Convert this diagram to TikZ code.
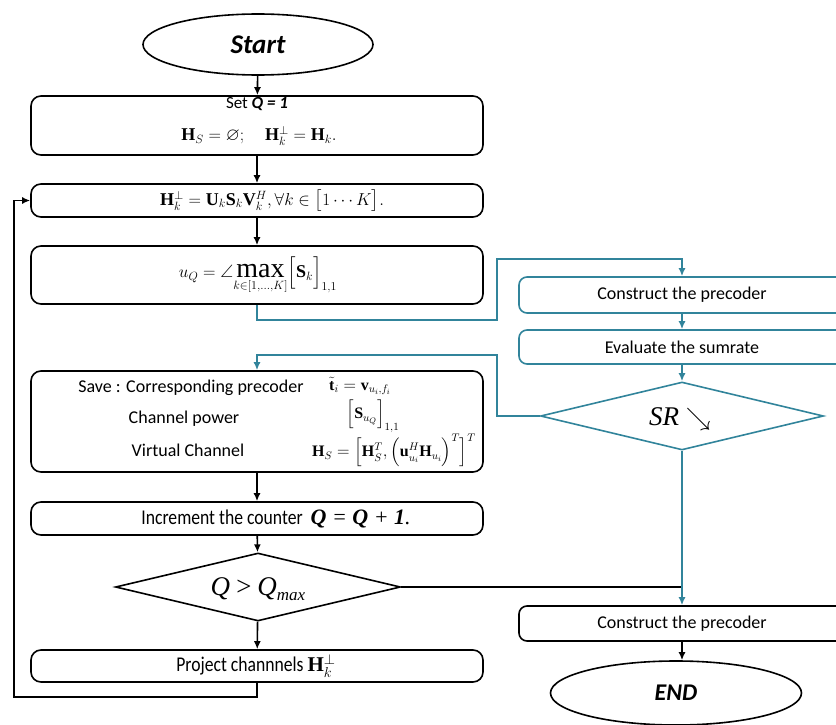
\documentclass[tikz,border=0pt]{standalone}
\usepackage{amsmath,amssymb}
\usepackage{fontspec}
\setsansfont{Carlito}
\setmathrm{Liberation Serif}
\setboldmathrm{Liberation Serif}
\newfontfamily\condfont{Carlito}[FakeStretch=0.84]
\newfontfamily\timesfont{Liberation Serif}
\usetikzlibrary{shapes.geometric,arrows.meta}
\definecolor{flowteal}{RGB}{49,132,155}
\tikzset{
  box/.style={draw=black, line width=1.6pt, rounded corners=10pt, fill=white, inner sep=0pt},
  tbox/.style={draw=flowteal, line width=1.6pt, rounded corners=8pt, fill=white, inner sep=0pt},
  blk/.style={draw=black, line width=1.6pt},
  tl/.style={draw=flowteal, line width=1.6pt},
  arr/.style={-{Latex[length=8pt,width=7pt]}},
  lbl/.style={font=\sffamily\fontsize{18}{21}\selectfont, inner sep=0pt},
  clbl/.style={font=\condfont\fontsize{21}{24}\selectfont, inner sep=0pt},
  mth/.style={font=\fontsize{18}{22}\selectfont, inner sep=0pt},
  smth/.style={font=\fontsize{16}{19}\selectfont, inner sep=0pt},
  term/.style={ellipse, draw=black, line width=1.6pt, fill=white, inner sep=0pt,
    font=\sffamily\bfseries\itshape},
  big/.style={font=\timesfont\itshape\fontsize{27}{30}\selectfont, inner sep=0pt},
}
\begin{document}
\begin{tikzpicture}[x=1pt,y=-1pt]
\useasboundingbox (0,0) rectangle (836,725);

% ---------- left column ----------
\node[term, minimum width=230, minimum height=61, font=\sffamily\bfseries\itshape\fontsize{27}{30}\selectfont] (start) at (258,44.5) {Start};

\node[box, minimum width=452, minimum height=59] (b1) at (257,125.5) {};
\node[lbl, font=\sffamily\fontsize{17}{20}\selectfont] (b1t) at (257,104) {Set \textbf{\textit{Q = 1}}};
\node[mth] (b1m) at (259,136) {$\mathbf{H}_S = \varnothing;\quad \mathbf{H}_k^{\perp} = \mathbf{H}_k.$};

\node[box, minimum width=452, minimum height=33] (b2) at (257,200.5) {};
\node[mth] (b2m) at (272,201) {$\mathbf{H}_k^{\perp} = \mathbf{U}_k\mathbf{S}_k\mathbf{V}_k^{H}, \forall k\in\big[1\cdots K\big].$};

\node[box, minimum width=452, minimum height=58] (b3) at (257,275) {};
\node[mth] (b3m) at (258,276) {$u_Q = \angle\!\mathop{\hbox{\timesfont\fontsize{28}{30}\selectfont max}}\limits_{k\in[1,\dots,K]}\!\Big[\mathbf{S}_k\Big]_{1,1}$};

\node[box, minimum width=452, minimum height=101] (b4) at (257,421.5) {};
\node[lbl] (s1) at (191,388) {Save : Corresponding precoder};
\node[lbl] (s2) at (184,419) {Channel power};
\node[lbl] (s3) at (188,450) {Virtual Channel};
\node[smth] (m1) at (360,386) {$\tilde{\mathbf{t}}_i = \mathbf{v}_{u_i,f_i}$};
\node[smth] (m2) at (373,416) {$\Big[\mathbf{S}_{u_Q}\Big]_{1,1}$};
\node[smth] (m3) at (394,451) {$\mathbf{H}_S = \Big[\mathbf{H}_S^T,\Big(\mathbf{u}_{u_i}^H\mathbf{H}_{u_i}\Big)^T\Big]^T$};

\node[box, minimum width=452, minimum height=33] (b5) at (257,518.5) {};
\node[clbl] (b5t) at (276,519) {Increment the counter \ {\timesfont\itshape\fontsize{22}{25}\selectfont\textbf{Q} = \textbf{Q} + \textbf{1}.}};

\node[diamond, draw=black, line width=1.6pt, fill=white, inner sep=0pt,
  minimum width=285, minimum height=68] (qd) at (258,587) {};
\node[big] (qdt) at (258,589) {Q\,>\,Q\raisebox{-0.4ex}{\fontsize{17}{19}\selectfont max}};

\node[box, minimum width=452, minimum height=32] (b6) at (257,666) {};
\node[clbl] (b6t) at (256,666) {Project channnels $\mathbf{H}_k^{\perp}$};

% ---------- right column ----------
\node[tbox, minimum width=326, minimum height=36] (r1) at (682,295) {};
\node[lbl] (r1t) at (682,295) {Construct the precoder};
\node[tbox, minimum width=326, minimum height=34] (r2) at (682,347) {};
\node[lbl] (r2t) at (682,347) {Evaluate the sumrate};
\node[diamond, draw=flowteal, line width=1.6pt, fill=white, inner sep=0pt,
  minimum width=283, minimum height=68] (sr) at (682,416) {};
\node[big] (srt) at (680,419) {SR $\searrow$};

\node[box, rounded corners=8pt, minimum width=326, minimum height=35] (r3) at (682,623.5) {};
\node[lbl] (r3t) at (682,624) {Construct the precoder};
\node[term, minimum width=251, minimum height=64, font=\sffamily\bfseries\itshape\fontsize{24}{28}\selectfont] (endn) at (676,693) {END};

% ---------- connectors ----------
\coordinate (t1) at (497,320);
\coordinate (t2) at (497,259);
\coordinate (t3) at (497,355);
\coordinate (lp) at (14,697);

\draw[blk,arr] (start) -- (b1);
\draw[blk,arr] (b1) -- (b2);
\draw[blk,arr] (b2) -- (b3);
\draw[blk,arr] (b4) -- (b5);
\draw[blk,arr] (b5) -- (qd);
\draw[blk,arr] (qd) -- (b6);
\draw[blk,arr] (b6.south) |- (lp) |- (b2.west);
\draw[blk] (qd.east) -- (r3.north |- qd.east);
\draw[blk,arr] (r3) -- (r3.south |- endn.north);

\draw[tl,arr] (b3.south) |- (t1) -- (t2) -| (r1.north);
\draw[tl,arr] (r1) -- (r2);
\draw[tl,arr] (r2) -- (sr);
\draw[tl,arr] (sr.west) -| (t3) -| (b4.north);
\draw[tl,arr] (sr.south) -- (r3.north);
\end{tikzpicture}
\end{document}
